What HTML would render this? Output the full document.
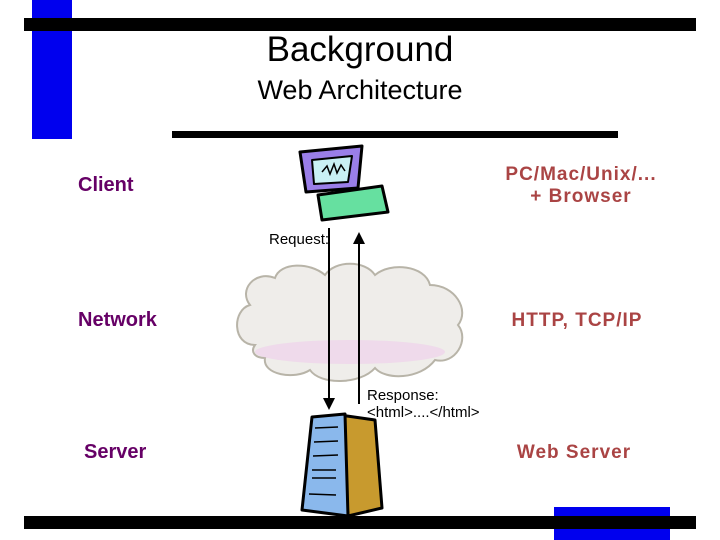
<!DOCTYPE html>
<html><head><style>
body{margin:0;width:720px;height:540px;background:#fff;position:relative;overflow:hidden;font-family:"Liberation Sans",sans-serif}
.a{position:absolute}
.l{color:#660066;font-weight:bold;font-size:20px}
.r{color:#aa4444;font-weight:bold;font-size:19px;text-align:center;letter-spacing:1px}
</style></head><body>
<div class="a" style="left:32px;top:0;width:40px;height:139px;background:#0000ee"></div>
<div class="a" style="left:24px;top:18px;width:672px;height:13px;background:#000"></div>
<div class="a" style="left:172px;top:131px;width:446px;height:7px;background:#000"></div>
<div class="a" style="left:0;top:30px;width:720px;text-align:center;font-size:35px">Background</div>
<div class="a" style="left:0;top:75px;width:720px;text-align:center;font-size:27px">Web Architecture</div>
<div class="a l" style="left:78px;top:174px">Client</div>
<div class="a l" style="left:78px;top:309px">Network</div>
<div class="a l" style="left:84px;top:441px">Server</div>
<div class="a r" style="left:466px;top:164px;width:230px;line-height:22px">PC/Mac/Unix/...<br>+ Browser</div>
<div class="a r" style="left:482px;top:310px;width:190px">HTTP, TCP/IP</div>
<div class="a r" style="left:482px;top:442px;width:184px">Web Server</div>
<svg class="a" style="left:0;top:0" width="720" height="540">
<path d="M255,345 C232,345 232,310 250,305 C238,290 255,270 275,278 C280,262 310,262 325,275 C335,260 365,260 375,275 C390,262 425,265 430,285 C455,285 470,310 458,325 C470,340 455,365 435,360 C420,380 385,380 375,368 C360,385 320,385 310,370 C295,380 262,375 265,358 C255,358 250,352 255,345 Z" fill="#efedea" stroke="#b8b4a8" stroke-width="2"/>
<ellipse cx="350" cy="352" rx="95" ry="12" fill="#f0c8ec" opacity="0.5"/>
<g stroke="#000" stroke-width="3" stroke-linejoin="round">
<path d="M300,152 L362,146 L358,188 L306,192 Z" fill="#9a7ee8"/>
<path d="M312,160 L352,156 L348,182 L314,184 Z" fill="#c9f0f4" stroke-width="2"/>
<path d="M318,195 L382,186 L388,212 L322,220 Z" fill="#66e0a0"/>
</g>
<path d="M322,172 l5,-6 3,8 4,-10 3,9 4,-8 4,6" stroke="#000" fill="none" stroke-width="1.5"/>
<g stroke="#000" stroke-width="3" stroke-linejoin="round">
<path d="M340,415 L375,420 L382,508 L348,516 Z" fill="#c89a2e"/>
<path d="M312,417 L345,414 L348,516 L302,510 Z" fill="#8ab8ec"/>
</g>
<g stroke="#000" stroke-width="1.5"><line x1="315" y1="428" x2="338" y2="427"/><line x1="314" y1="442" x2="338" y2="441"/><line x1="313" y1="456" x2="338" y2="455"/><line x1="312" y1="470" x2="336" y2="470"/><line x1="312" y1="478" x2="336" y2="478"/><line x1="309" y1="494" x2="336" y2="495"/></g>
<line x1="329" y1="228" x2="329" y2="400" stroke="#000" stroke-width="2"/>
<path d="M323,398 L335,398 L329,410 Z" fill="#000"/>
<line x1="359" y1="244" x2="359" y2="404" stroke="#000" stroke-width="2"/>
<path d="M353,244 L365,244 L359,232 Z" fill="#000"/>
</svg>
<div class="a" style="left:269px;top:231px;font-size:15px">Request:</div>
<div class="a" style="left:367px;top:387px;font-size:15px;line-height:17px">Response:<br>&lt;html&gt;....&lt;/html&gt;</div>
<div class="a" style="left:24px;top:516px;width:672px;height:13px;background:#000"></div>
<div class="a" style="left:554px;top:507px;width:116px;height:9px;background:#0000ee"></div>
<div class="a" style="left:554px;top:529px;width:116px;height:11px;background:#0000ee"></div>
</body></html>
